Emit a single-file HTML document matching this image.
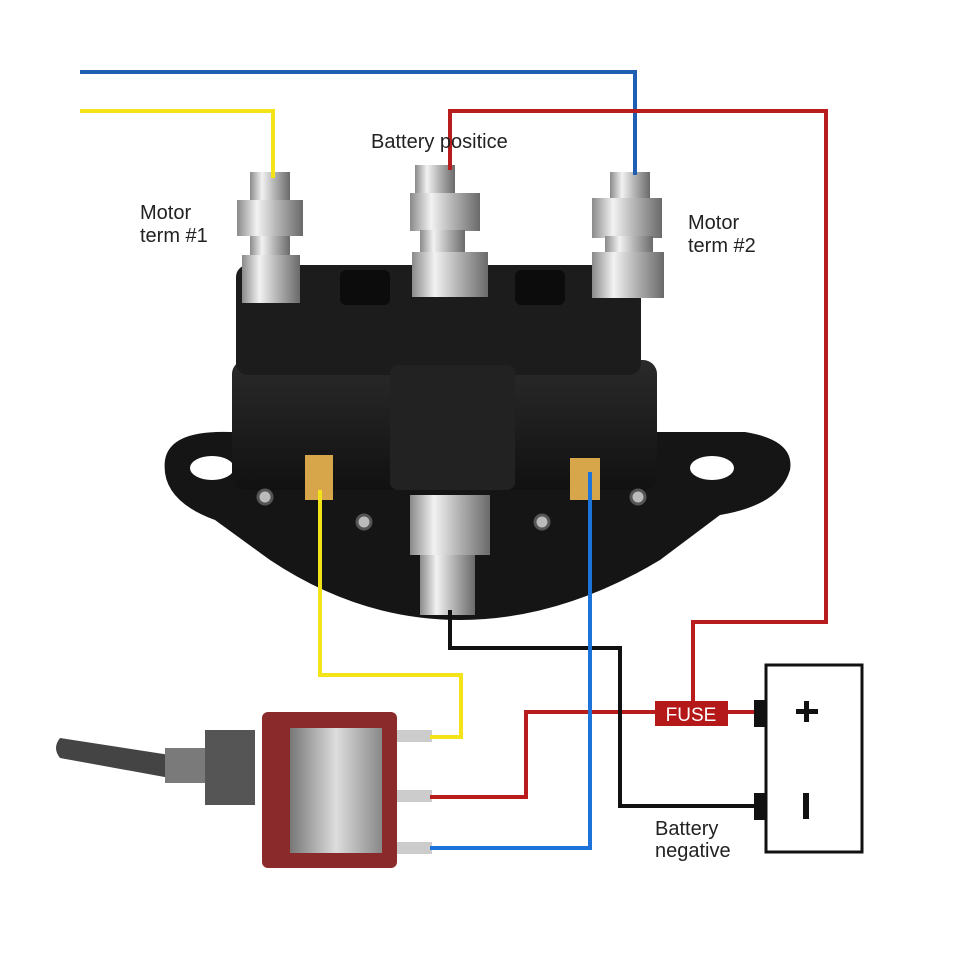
<!DOCTYPE html>
<html><head><meta charset="utf-8"><style>
html,body{margin:0;padding:0;background:#fff;}
svg{display:block}
text{font-family:"Liberation Sans",sans-serif;}
</style></head><body>
<svg width="958" height="980" viewBox="0 0 958 980" xmlns="http://www.w3.org/2000/svg">
<defs>
<linearGradient id="met" x1="0" x2="1" y1="0" y2="0">
<stop offset="0" stop-color="#8a8a8a"/><stop offset="0.3" stop-color="#f2f2f2"/><stop offset="0.6" stop-color="#b5b5b5"/><stop offset="1" stop-color="#6a6a6a"/></linearGradient>
<linearGradient id="body" x1="0" x2="0" y1="0" y2="1">
<stop offset="0" stop-color="#2a2a2a"/><stop offset="1" stop-color="#111"/></linearGradient>
<linearGradient id="sw" x1="0" x2="1"><stop offset="0" stop-color="#777"/><stop offset="0.5" stop-color="#ddd"/><stop offset="1" stop-color="#888"/></linearGradient>
</defs>
<rect width="958" height="980" fill="#fff"/>

<!-- solenoid body -->
<path d="M165,460 Q170,430 230,432 L745,432 Q795,440 790,470 Q780,505 720,515 L660,560 Q560,620 460,620 Q360,620 270,560 L215,520 Q160,500 165,460Z" fill="#151515"/>
<ellipse cx="212" cy="468" rx="22" ry="12" fill="#fff"/>
<ellipse cx="712" cy="468" rx="22" ry="12" fill="#fff"/>
<rect x="232" y="360" width="425" height="130" rx="14" fill="url(#body)"/>
<rect x="236" y="265" width="405" height="110" rx="12" fill="#1c1c1c"/>
<rect x="390" y="365" width="125" height="125" rx="8" fill="#222"/>
<rect x="340" y="270" width="50" height="35" rx="6" fill="#0c0c0c"/>
<rect x="515" y="270" width="50" height="35" rx="6" fill="#0c0c0c"/>
<circle cx="265" cy="497" r="7" fill="#bbb" stroke="#555" stroke-width="3"/>
<circle cx="364" cy="522" r="7" fill="#bbb" stroke="#555" stroke-width="3"/>
<circle cx="542" cy="522" r="7" fill="#bbb" stroke="#555" stroke-width="3"/>
<circle cx="638" cy="497" r="7" fill="#bbb" stroke="#555" stroke-width="3"/>
<!-- spade terminals -->
<rect x="305" y="455" width="28" height="45" fill="#d7a54a"/>
<rect x="570" y="458" width="30" height="42" fill="#d7a54a"/>
<!-- studs -->
<g>
<rect x="250" y="172" width="40" height="30" fill="url(#met)"/>
<rect x="237" y="200" width="66" height="36" fill="url(#met)"/>
<rect x="250" y="236" width="40" height="20" fill="url(#met)"/>
<rect x="242" y="255" width="58" height="48" fill="url(#met)"/>
<rect x="415" y="165" width="40" height="30" fill="url(#met)"/>
<rect x="410" y="193" width="70" height="38" fill="url(#met)"/>
<rect x="420" y="230" width="45" height="25" fill="url(#met)"/>
<rect x="412" y="252" width="76" height="45" fill="url(#met)"/>
<rect x="610" y="172" width="40" height="30" fill="url(#met)"/>
<rect x="592" y="198" width="70" height="40" fill="url(#met)"/>
<rect x="605" y="236" width="48" height="20" fill="url(#met)"/>
<rect x="592" y="252" width="72" height="46" fill="url(#met)"/>
<rect x="410" y="495" width="80" height="60" fill="url(#met)"/>
<rect x="420" y="555" width="55" height="60" fill="url(#met)"/>
</g>

<!-- toggle switch -->
<path d="M60,738 L170,755 L170,778 L60,758 Q52,748 60,738Z" fill="#444"/>
<rect x="165" y="748" width="40" height="35" fill="#7a7a7a"/>
<rect x="205" y="730" width="50" height="75" fill="#555"/>
<rect x="262" y="712" width="135" height="156" rx="6" fill="#8a2a2a"/>
<rect x="290" y="728" width="92" height="125" fill="url(#sw)"/>
<rect x="397" y="730" width="35" height="12" fill="#ccc"/>
<rect x="397" y="790" width="35" height="12" fill="#ccc"/>
<rect x="397" y="842" width="35" height="12" fill="#ccc"/>

<!-- wires -->
<g fill="none" stroke-width="4">
<polyline points="80,72 635,72 635,175" stroke="#1e5fb4"/>
<polyline points="80,111 273,111 273,178" stroke="#f5e31a"/>
<polyline points="450,170 450,111 826,111 826,622 693,622 693,712" stroke="#b81c1c"/>
<polyline points="430,797 526,797 526,712 758,712" stroke="#b81c1c"/>
<polyline points="450,610 450,648 620,648 620,806 758,806" stroke="#111"/>
<polyline points="320,490 320,675 461,675 461,737 430,737" stroke="#f5e31a"/>
<polyline points="590,472 590,848 430,848" stroke="#1e73d8"/>
</g>

<!-- fuse -->
<rect x="655" y="701" width="73" height="25" fill="#b41818"/>
<text x="691" y="721" font-size="19" fill="#fff" text-anchor="middle">FUSE</text>

<!-- battery -->
<rect x="766" y="665" width="96" height="187" fill="#fff" stroke="#111" stroke-width="3"/>
<rect x="754" y="700" width="13" height="27" fill="#111"/>
<rect x="754" y="793" width="13" height="27" fill="#111"/>
<rect x="796" y="709" width="22" height="5" fill="#111"/>
<rect x="804" y="701" width="5" height="21" fill="#111"/>
<rect x="803" y="793" width="6" height="26" fill="#111"/>

<!-- labels -->
<text x="371" y="148" font-size="20" fill="#222">Battery positice</text>
<text x="140" y="219" font-size="20" fill="#222">Motor</text>
<text x="140" y="242" font-size="20" fill="#222">term #1</text>
<text x="688" y="229" font-size="20" fill="#222">Motor</text>
<text x="688" y="252" font-size="20" fill="#222">term #2</text>
<text x="655" y="835" font-size="20" fill="#222">Battery</text>
<text x="655" y="857" font-size="20" fill="#222">negative</text>
</svg>
</body></html>
